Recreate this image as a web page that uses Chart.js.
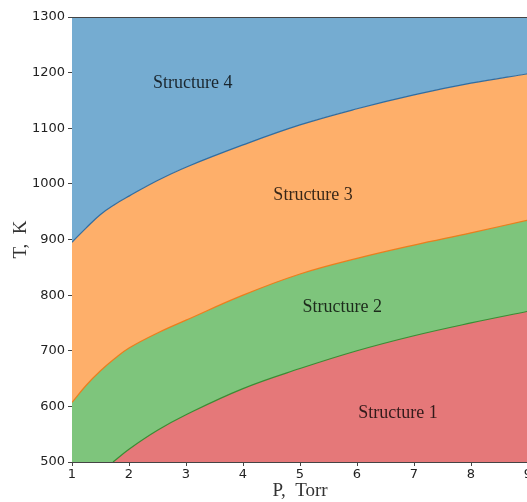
<!DOCTYPE html>
<html>
<head>
<meta charset="utf-8">
<script src="https://cdn.jsdelivr.net/npm/chart.js@4/dist/chart.umd.min.js"></script>
<style>
  html, body { margin: 0; padding: 0; background: #fff; overflow: hidden; }
  #wrap { width: 600px; height: 502px; }
</style>
</head>
<body>
<div id="wrap"><canvas id="c" width="600" height="502"></canvas></div>
<script>
// Phase boundaries T(P)
const pressure = [1, 1.25, 1.5, 1.75, 2, 2.5, 3, 4, 5, 6, 7, 8, 9];
const boundary34 = [895, 921, 945, 963, 978, 1006, 1030, 1070, 1106, 1135, 1160, 1181, 1198];
const boundary23 = [607, 638, 664, 686, 705, 732, 755, 800, 838, 866, 890, 912, 935];
const pressure12 = [1.72, 2, 2.5, 3, 4, 5, 6, 7, 8, 9];
const boundary12 = [500, 523, 557, 585, 632, 668, 700, 727, 750, 771];

// Region names and their anchor points (P, T)
const regionNames = ['Structure 1', 'Structure 2', 'Structure 3', 'Structure 4'];
const regionP = [6.72, 5.74, 5.23, 3.12];
const regionT = [588, 779, 980, 1180];

const xTicks = [1, 2, 3, 4, 5, 6, 7, 8, 9];
const yTicks = [500, 600, 700, 800, 900, 1000, 1100, 1200, 1300];

const pts = (xs, ys) => xs.map((x, i) => ({ x: x, y: ys[i] }));

const regionLabels = {
  id: 'regionLabels',
  afterDatasetsDraw(chart) {
    const { ctx, scales: { x, y } } = chart;
    ctx.save();
    ctx.font = '18px "Liberation Serif", serif';
    ctx.fillStyle = 'rgba(0,0,0,0.78)';
    ctx.textAlign = 'center';
    ctx.textBaseline = 'middle';
    regionNames.forEach((n, i) => {
      ctx.fillText(n, x.getPixelForValue(regionP[i]), y.getPixelForValue(regionT[i]));
    });
    ctx.restore();
  }
};

const frame = {
  id: 'frame',
  afterDraw(chart) {
    const { ctx, chartArea: a } = chart;
    ctx.save();
    ctx.strokeStyle = '#444';
    ctx.lineWidth = 1;
    ctx.beginPath();
    ctx.moveTo(a.left, a.top + 0.5);
    ctx.lineTo(a.right, a.top + 0.5);
    ctx.stroke();
    ctx.restore();
  }
};

new Chart(document.getElementById('c'), {
  type: 'line',
  data: {
    datasets: [
      { data: pts(pressure12, boundary12), fill: 'start', backgroundColor: 'rgb(229,120,121)',
        borderColor: 'rgba(44,140,44,0.9)', borderWidth: 1.2 },
      { data: pts(pressure, boundary23), fill: 'start', backgroundColor: 'rgb(126,197,124)',
        borderColor: 'rgba(240,120,20,0.9)', borderWidth: 1.2 },
      { data: pts(pressure, boundary34), fill: 'start', backgroundColor: 'rgb(254,175,106)',
        borderColor: 'rgba(31,100,160,0.9)', borderWidth: 1.2 },
      { data: pts(pressure, boundary34), fill: 'end', backgroundColor: 'rgb(117,172,209)',
        borderWidth: 0 }
    ]
  },
  options: {
    responsive: false,
    animation: false,
    events: [],
    layout: { padding: { top: 17, right: 72, left: 0, bottom: 0 } },
    elements: { point: { radius: 0 }, line: { cubicInterpolationMode: 'default', tension: 0.4 } },
    plugins: { legend: { display: false }, tooltip: { enabled: false } },
    scales: {
      x: {
        type: 'linear', min: 1, max: 9,
        afterBuildTicks: s => { s.ticks = xTicks.map(v => ({ value: v })); },
        afterFit: s => { s.height = 40; },
        ticks: { color: '#222', font: { family: '"DejaVu Sans"', size: 13 }, padding: 1, maxRotation: 0,
                 callback: v => String(v) },
        grid: { display: true, drawOnChartArea: false, drawTicks: true, tickLength: 4, color: '#444' },
        border: { display: true, color: '#444', width: 1 },
        title: { display: true, text: 'P,  Torr', color: '#333',
                 font: { family: '"Liberation Serif"', size: 19 }, padding: { top: 0, bottom: 0 } }
      },
      y: {
        type: 'linear', min: 500, max: 1300,
        afterBuildTicks: s => { s.ticks = yTicks.map(v => ({ value: v })); },
        afterFit: s => { s.width = 72; },
        ticks: { color: '#222', font: { family: '"DejaVu Sans"', size: 13 }, padding: 3,
                 callback: v => String(v) },
        grid: { display: true, drawOnChartArea: false, drawTicks: true, tickLength: 4, color: '#444' },
        border: { display: true, color: '#444', width: 1 },
        title: { display: true, text: 'T,  K', color: '#333',
                 font: { family: '"Liberation Serif"', size: 19 }, padding: { top: 10, bottom: 0 } }
      }
    }
  },
  plugins: [regionLabels, frame]
});
</script>
</body>
</html>
